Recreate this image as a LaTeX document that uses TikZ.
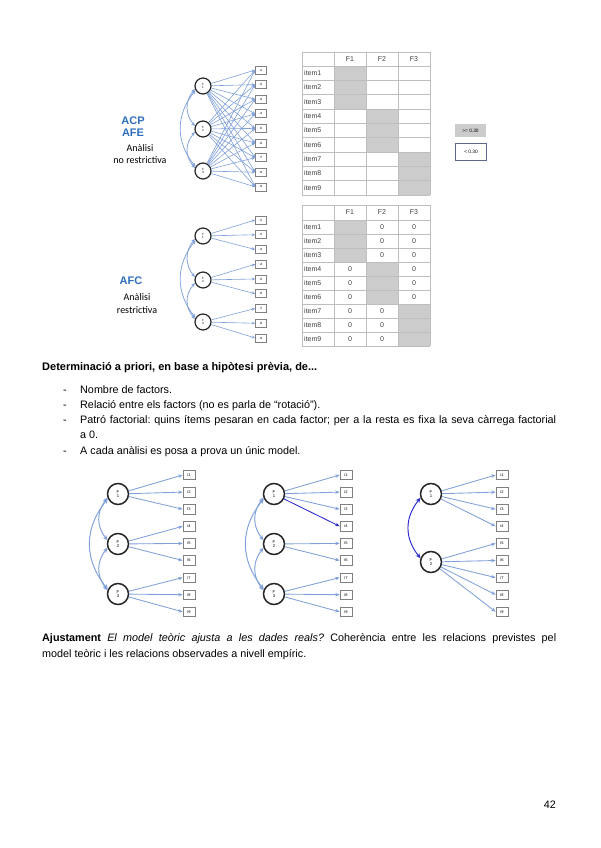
\documentclass[tikz,border=0pt]{standalone}
\usepackage{fontspec}
\setmainfont{Liberation Sans}
\newfontfamily\calib{Carlito}
\usetikzlibrary{arrows.meta}
\definecolor{arr}{RGB}{128,160,218}
\definecolor{darr}{RGB}{40,40,205}
\definecolor{acpblue}{RGB}{46,110,190}
\definecolor{cellgray}{RGB}{204,204,204}
\definecolor{gridgray}{RGB}{190,190,190}
\definecolor{legb}{RGB}{90,105,140}
\begin{document}
\begin{tikzpicture}[x=1pt,y=-1pt,
 fac/.style={circle,draw=black!85,line width=1.2pt,minimum size=16pt,inner sep=0pt,font=\fontsize{3}{3.4}\selectfont,align=center},
 facb/.style={fac,minimum size=21pt,line width=1.5pt,font=\fontsize{4.2}{4.8}\selectfont},
 itm/.style={draw=gray,line width=0.6pt,minimum width=11pt,minimum height=8pt,inner sep=0pt,font=\fontsize{3}{3}\selectfont},
 itmb/.style={itm,minimum width=12pt,minimum height=9.5pt,font=\fontsize{4}{4}\selectfont},
 ld/.style={draw=arr,line width=0.6pt,-{Stealth[length=3.5pt,width=3pt]}},
 ldb/.style={draw=arr,line width=0.85pt,-{Stealth[length=4.5pt,width=3.5pt]}},
 cov/.style={draw=arr,line width=0.75pt,{Stealth[length=4pt,width=3.5pt]}-{Stealth[length=4pt,width=3.5pt]}},
 covb/.style={draw=arr,line width=0.95pt,{Stealth[length=5pt,width=4.5pt]}-{Stealth[length=5pt,width=4.5pt]}},
 tbl/.style={font=\fontsize{7}{7}\selectfont,text=black!75,inner sep=0pt},
 body/.style={font=\fontsize{10.8}{13}\selectfont\frenchspacing,inner sep=0pt,anchor=base west},
]
\useasboundingbox (0,0) rectangle (600,848);

% ---------- top: ACP / AFE ----------
\node[font=\fontsize{11}{11}\selectfont\bfseries,text=acpblue] (tacp) at (133,121) {ACP};
\node[font=\fontsize{11}{11}\selectfont\bfseries,text=acpblue] (tafe) at (133,133) {AFE};
\node[font=\calib\fontsize{10}{10}\selectfont] (tan) at (140,148) {Anàlisi};
\node[font=\calib\fontsize{10}{10}\selectfont] (tnr) at (140,160) {no restrictiva};

\foreach \i/\y in {1/86,2/129,3/171} \node[fac] (tF\i) at (203,\y) {F\\\i};
\foreach \k in {1,...,9} \node[itm] (ti\k) at (261,{70+(\k-1)*14.6}) {i\k};
\foreach \i in {1,2,3} \foreach \k in {1,...,9} \draw[ld] (tF\i) -- (ti\k.west);
\draw[cov] (tF1.200) .. controls +(-10,12) and +(-10,-12) .. (tF2.160);
\draw[cov] (tF2.200) .. controls +(-10,12) and +(-10,-12) .. (tF3.160);
\draw[cov] (tF1.210) .. controls +(-20,25) and +(-20,-25) .. (tF3.150);

% top table
\fill[cellgray] (334,66) rectangle (366,109);
\fill[cellgray] (366,109) rectangle (398,152);
\fill[cellgray] (398,152) rectangle (430,195);
\foreach \r in {0,...,9} \draw[gridgray,line width=0.5pt] (302,{66+\r*14.33}) -- (430,{66+\r*14.33});
\draw[gridgray,line width=0.5pt] (302,52) -- (430,52);
\foreach \c in {302,334,366,398,430} \draw[gridgray,line width=0.5pt] (\c,52) -- (\c,195);
\foreach \j/\c in {1/350,2/382,3/414} \node[tbl] (thF\j) at (\c,59) {F\j};
\foreach \r in {1,...,9} \node[tbl,anchor=west] (tit\r) at (304,{66+(\r-0.5)*14.33}) {item\r};

% legend
\node[fill=cellgray,minimum width=31pt,minimum height=13pt,inner sep=0pt,font=\fontsize{4.8}{5}\selectfont] (lg1) at (470.5,130.5) {>= 0.30};
\node[draw=legb,line width=1pt,minimum width=31pt,minimum height=17pt,inner sep=0pt,font=\fontsize{4.8}{5}\selectfont] (lg2) at (471,152) {< 0.30};

% ---------- middle: AFC ----------
\node[font=\fontsize{11}{11}\selectfont\bfseries,text=acpblue] (macf) at (131,281) {AFC};
\node[font=\calib\fontsize{10}{10}\selectfont] (man) at (137,297) {Anàlisi};
\node[font=\calib\fontsize{10}{10}\selectfont] (mre) at (137,310) {restrictiva};

\foreach \i/\y in {1/236,2/280,3/322} \node[fac] (mF\i) at (203,\y) {F\\\i};
\foreach \k in {1,...,9} \node[itm] (mi\k) at (261,{220+(\k-1)*14.75}) {i\k};
\foreach \k in {1,2,3} \draw[ld] (mF1) -- (mi\k.west);
\foreach \k in {4,5,6} \draw[ld] (mF2) -- (mi\k.west);
\foreach \k in {7,8,9} \draw[ld] (mF3) -- (mi\k.west);
\draw[cov] (mF1.200) .. controls +(-10,12) and +(-10,-12) .. (mF2.160);
\draw[cov] (mF2.200) .. controls +(-10,12) and +(-10,-12) .. (mF3.160);
\draw[cov] (mF1.210) .. controls +(-20,25) and +(-20,-25) .. (mF3.150);

% middle table
\fill[cellgray] (334,220) rectangle (366,262);
\fill[cellgray] (366,262) rectangle (398,304);
\fill[cellgray] (398,304) rectangle (430,346);
\foreach \r in {0,...,9} \draw[gridgray,line width=0.5pt] (302,{220+\r*14}) -- (430,{220+\r*14});
\draw[gridgray,line width=0.5pt] (302,205) -- (430,205);
\foreach \c in {302,334,366,398,430} \draw[gridgray,line width=0.5pt] (\c,205) -- (\c,346);
\foreach \j/\c in {1/350,2/382,3/414} \node[tbl] (mhF\j) at (\c,212.5) {F\j};
\foreach \r in {1,...,9} \node[tbl,anchor=west] (mit\r) at (304,{220+(\r-0.5)*14}) {item\r};
\foreach \r in {1,2,3} {\node[tbl] (mzb\r) at (382,{220+(\r-0.5)*14}) {0}; \node[tbl] (mzc\r) at (414,{220+(\r-0.5)*14}) {0};}
\foreach \r in {4,5,6} {\node[tbl] (mza\r) at (350,{220+(\r-0.5)*14}) {0}; \node[tbl] (mzc\r) at (414,{220+(\r-0.5)*14}) {0};}
\foreach \r in {7,8,9} {\node[tbl] (mza\r) at (350,{220+(\r-0.5)*14}) {0}; \node[tbl] (mzb\r) at (382,{220+(\r-0.5)*14}) {0};}

% ---------- text ----------
\node[body,font=\fontsize{11}{13}\selectfont\bfseries] (h1) at (42,370.5) {Determinació a priori, en base a hipòtesi prèvia, de...};
\foreach \n/\y in {1/393.5,2/408.5,3/423.5,4/454.5} \node[body] (d\n) at (63,\y) {-};
\node[body] (b1) at (80,393.5) {Nombre de factors.};
\node[body] (b2) at (80,408.5) {Relació entre els factors (no es parla de “rotació”).};
\node[body] (b3) at (80,423.5) {\makebox[476pt][s]{Patró factorial: quins ítems pesaran en cada factor; per a la resta es fixa la seva càrrega factorial}};
\node[body] (b3b) at (80,438.5) {a 0.};
\node[body] (b4) at (80,454.5) {A cada anàlisi es posa a prova un únic model.};

% ---------- bottom A ----------
\foreach \i/\y in {1/494,2/544,3/594} \node[facb] (aF\i) at (118,\y) {F\\\i};
\foreach \k in {1,...,9} \node[itmb] (ai\k) at (189,{475+(\k-1)*17.1}) {i\k};
\foreach \k in {1,2,3} \draw[ldb] (aF1) -- (ai\k.west);
\foreach \k in {4,5,6} \draw[ldb] (aF2) -- (ai\k.west);
\foreach \k in {7,8,9} \draw[ldb] (aF3) -- (ai\k.west);
\draw[covb] (aF1.200) .. controls +(-11,14) and +(-11,-14) .. (aF2.160);
\draw[covb] (aF2.200) .. controls +(-11,14) and +(-11,-14) .. (aF3.160);
\draw[covb] (aF1.205) .. controls +(-24,30) and +(-24,-30) .. (aF3.155);

% ---------- bottom B ----------
\foreach \i/\y in {1/494,2/544,3/594} \node[facb] (bF\i) at (274,\y) {F\\\i};
\foreach \k in {1,...,9} \node[itmb] (bi\k) at (346,{475+(\k-1)*17.1}) {i\k};
\foreach \k in {1,2,3} \draw[ldb] (bF1) -- (bi\k.west);
\draw[ldb,draw=darr] (bF1) -- (bi4.west);
\foreach \k in {5,6} \draw[ldb] (bF2) -- (bi\k.west);
\foreach \k in {7,8,9} \draw[ldb] (bF3) -- (bi\k.west);
\draw[covb] (bF1.200) .. controls +(-11,14) and +(-11,-14) .. (bF2.160);
\draw[covb] (bF2.200) .. controls +(-11,14) and +(-11,-14) .. (bF3.160);
\draw[covb] (bF1.205) .. controls +(-24,30) and +(-24,-30) .. (bF3.155);

% ---------- bottom C ----------
\foreach \i/\y in {1/494,2/562} \node[facb] (cF\i) at (431,\y) {F\\\i};
\foreach \k in {1,...,9} \node[itmb] (ci\k) at (502,{475+(\k-1)*17.1}) {i\k};
\foreach \k in {1,2,3,4} \draw[ldb] (cF1) -- (ci\k.west);
\foreach \k in {5,6,7,8,9} \draw[ldb] (cF2) -- (ci\k.west);
\draw[covb,draw=darr] (cF1.200) .. controls +(-16,20) and +(-16,-20) .. (cF2.160);

% ---------- bottom text ----------
\node[body] (aj1) at (42,641.5) {\makebox[514pt][s]{\textbf{Ajustament} \textit{El model teòric ajusta a les dades reals?} Coherència entre les relacions previstes pel}};
\node[body] (aj2) at (42,657.5) {model teòric i les relacions observades a nivell empíric.};
\node[body,anchor=base east] (pg) at (556,808) {42};
\end{tikzpicture}
\end{document}
